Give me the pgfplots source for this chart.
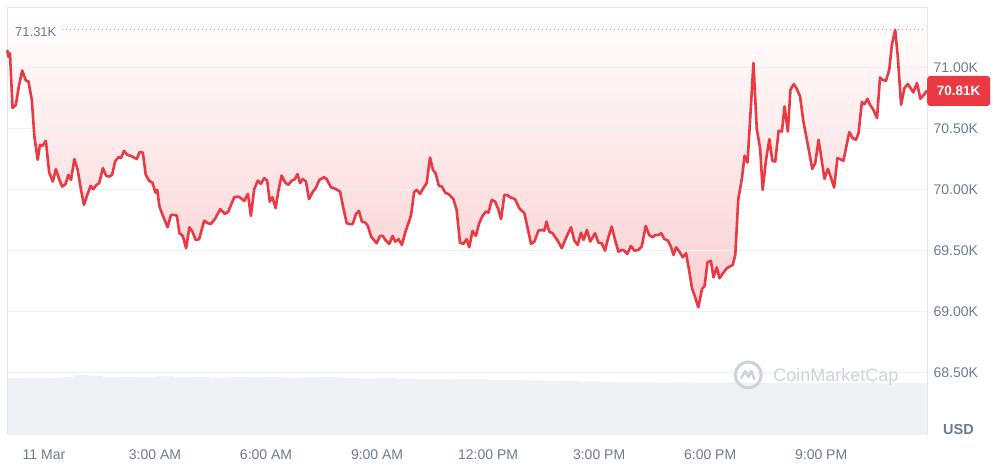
\documentclass[border=0pt]{standalone}
\usepackage{fontspec}
\setmainfont{Liberation Sans}
\usepackage{pgfplots}
\usepackage{pgfplotstable}
\pgfplotsset{compat=1.18}
\definecolor{cmcred}{HTML}{EA3943}
\definecolor{lbl}{HTML}{6F7A8E}
\definecolor{gridc}{HTML}{EDF0F4}
\definecolor{framec}{HTML}{E4E7EC}
\definecolor{volc}{HTML}{EFF1F4}
\definecolor{wm}{HTML}{CDD3DD}
\definecolor{dotc}{HTML}{A3AAB6}

\pgfplotstableread{
h p
-0.99 71140
-0.96 71090
-0.92 71120
-0.85 70670
-0.76 70697
-0.68 70847
-0.59 70978
-0.49 70896
-0.42 70888
-0.33 70738
-0.26 70437
-0.17 70246
-0.11 70369
-0.04 70361
0.05 70402
0.14 70142
0.24 70068
0.32 70170
0.41 70088
0.49 70027
0.58 70047
0.66 70123
0.73 70082
0.82 70252
0.91 70164
1.00 70000
1.08 69877
1.17 69959
1.26 70033
1.33 70006
1.42 70041
1.49 70055
1.59 70178
1.68 70115
1.76 70109
1.84 70123
1.92 70232
2.01 70268
2.08 70260
2.16 70320
2.25 70287
2.34 70279
2.41 70268
2.51 70252
2.58 70309
2.67 70306
2.75 70123
2.84 70074
2.93 70060
3.01 69978
3.06 70000
3.12 69863
3.18 69814
3.25 69760
3.34 69694
3.43 69795
3.52 69795
3.59 69789
3.66 69645
3.75 69623
3.84 69522
3.93 69694
4.01 69658
4.10 69590
4.19 69596
4.33 69748
4.42 69727
4.51 69721
4.62 69762
4.76 69842
4.89 69803
4.98 69822
5.14 69940
5.25 69945
5.32 69932
5.41 69910
5.51 69967
5.59 69787
5.68 70006
5.78 70076
5.86 70049
5.95 70096
6.03 70076
6.10 69904
6.17 69940
6.26 69850
6.33 69986
6.42 70117
6.51 70063
6.60 70041
6.69 70074
6.78 70088
6.85 70129
6.92 70055
6.99 70088
7.08 70068
7.16 69924
7.25 69978
7.32 70006
7.35 70019
7.44 70082
7.57 70104
7.64 70088
7.75 70022
7.86 70011
8.00 69986
8.09 69850
8.18 69727
8.27 69719
8.34 69719
8.43 69803
8.51 69828
8.59 69740
8.68 69732
8.75 69705
8.84 69617
8.93 69584
8.99 69563
9.08 69623
9.15 69623
9.24 69584
9.33 69557
9.42 69623
9.49 69576
9.58 69596
9.67 69549
9.76 69650
9.87 69748
9.92 69795
10.00 69981
10.07 70000
10.16 69967
10.25 70014
10.34 70055
10.43 70265
10.51 70164
10.58 70137
10.67 70033
10.75 70027
10.84 69978
10.93 69965
11.06 69926
11.15 69836
11.24 69568
11.33 69557
11.42 69596
11.49 69530
11.58 69664
11.67 69623
11.76 69727
11.85 69787
11.94 69822
12.01 69814
12.10 69918
12.19 69904
12.28 69836
12.35 69760
12.44 69959
12.51 69959
12.59 69940
12.73 69924
12.84 69850
12.98 69809
13.07 69686
13.16 69557
13.25 69576
13.36 69666
13.47 69672
13.52 69666
13.58 69740
13.65 69658
13.74 69645
13.88 69584
13.99 69522
14.13 69623
14.24 69694
14.33 69584
14.42 69549
14.51 69650
14.58 69590
14.67 69672
14.76 69576
14.89 69645
14.98 69568
15.07 69563
15.16 69502
15.23 69590
15.34 69699
15.43 69590
15.52 69494
15.61 69508
15.68 69502
15.76 69475
15.86 69541
15.95 69502
16.06 69508
16.15 69535
16.26 69705
16.35 69631
16.44 69612
16.53 69631
16.60 69629
16.68 69645
16.76 69598
16.86 69584
16.94 69535
17.01 69467
17.08 69530
17.17 69494
17.26 69448
17.35 69481
17.43 69344
17.51 69194
17.59 69125
17.68 69038
17.78 69188
17.85 69213
17.93 69407
18.02 69420
18.09 69284
18.18 69366
18.25 69276
18.36 69322
18.45 69358
18.56 69377
18.61 69385
18.68 69467
18.76 69924
18.86 70096
18.93 70279
19.01 70224
19.08 70574
19.17 71039
19.26 70498
19.35 70342
19.42 70000
19.51 70246
19.60 70416
19.68 70240
19.76 70232
19.85 70484
19.94 70478
20.01 70683
20.10 70478
20.17 70820
20.26 70866
20.34 70828
20.43 70765
20.52 70560
20.64 70369
20.76 70172
20.84 70219
20.93 70410
21.02 70232
21.09 70090
21.18 70172
21.27 70096
21.35 70019
21.44 70260
21.51 70252
21.60 70238
21.69 70369
21.76 70473
21.85 70424
21.94 70410
22.01 70465
22.10 70719
22.17 70702
22.25 70746
22.32 70697
22.41 70656
22.51 70588
22.59 70920
22.66 70902
22.75 70893
22.84 70984
22.91 71189
23.00 71310
23.07 71093
23.16 70697
23.25 70834
23.34 70866
23.43 70828
23.49 70798
23.59 70875
23.68 70746
23.76 70773
23.85 70810
}\price

\pgfplotstableread{
h v
-1 13.3
-0.5 13.4
0 13.3
0.5 13.6
0.8 14.0
1.2 13.9
1.6 13.5
2 13.6
2.5 13.5
3 13.7
3.5 13.5
4 13.6
4.5 13.4
5 13.6
5.5 13.5
6 13.6
6.5 13.4
7 13.5
7.5 13.6
8 13.3
8.5 13.2
9 13.4
9.5 13.2
10 13.1
10.5 13.1
11 13.0
11.5 13.0
12 12.9
12.5 12.9
13 12.8
13.5 12.7
14 12.6
14.5 12.5
15 12.4
15.5 12.3
16 12.3
16.5 12.2
17 12.3
17.5 12.2
18 12.2
18.5 12.3
19 12.2
19.5 12.2
20 12.2
20.5 12.1
21 12.2
21.5 12.2
22 12.2
22.5 12.1
23 12.2
23.5 12.2
23.86 12.2
}\volume

\begin{document}
\begin{tikzpicture}
\useasboundingbox (-7pt,-30pt) rectangle (995pt,435pt);
% volume
\begin{axis}[at={(0pt,0pt)}, anchor=south west, scale only axis,
  width=920pt, height=427pt, xmin=-1, xmax=23.86, ymin=0, ymax=100, hide axis]
\addplot[const plot, fill=volc, draw=none] table[x=h, y=v] {\volume} \closedcycle;
\end{axis}
% price
\begin{axis}[at={(0pt,0pt)}, anchor=south west, scale only axis,
  width=920pt, height=427pt, clip=false,
  xmin=-1, xmax=23.86, ymin=67992, ymax=71490,
  axis line style={draw=none},
  scaled y ticks=false, scaled x ticks=false,
  ytick={68500,69000,69500,70000,70500,71000},
  yticklabels={68.50K,69.00K,69.50K,70.00K,70.50K,71.00K},
  yticklabel pos=right,
  major tick length=0pt,
  xtick={0,3,6,9,12,15,18,21},
  xticklabels={11 Mar,3:00 AM,6:00 AM,9:00 AM,12:00 PM,3:00 PM,6:00 PM,9:00 PM},
  ticklabel style={font=\fontsize{14}{16}\selectfont, text=lbl},
  xticklabel style={anchor=base, yshift=-25pt},
  yticklabel style={anchor=west, xshift=3pt},
]
% gradient area between the price line and the top of the chart
\addplot[draw=none, top color=white, bottom color=cmcred!24] table[x=h, y=p] {\price}
  -- (axis cs:23.85,71490) -- (axis cs:-0.99,71490) -- cycle;
% horizontal grid lines
\pgfplotsinvokeforeach{68500,69000,69500,70000,70500,71000}{
  \draw[gridc, line width=1pt] (axis cs:-1,#1) -- (axis cs:23.86,#1);
}
\draw[framec, line width=1pt] (rel axis cs:0,0) -- (rel axis cs:0,1) -- (rel axis cs:1,1) -- (rel axis cs:1,0);
\addplot[dotc, line width=1pt, dash pattern=on 1pt off 3pt] coordinates {(0.49,71310) (23.80,71310)};
\node[anchor=west, inner sep=0, xshift=8pt, yshift=-2pt, text=lbl, font=\fontsize{13}{15}\selectfont] at (axis cs:-1,71310) {71.31K};
% watermark
\node[circle, draw=wm, line width=3pt, minimum size=26pt, inner sep=0] (logo) at (axis cs:19.03,68484) {};
\draw[wm, line width=2.5pt, line join=round, line cap=round] ([shift={(-7pt,-3pt)}]logo.center) -- ([shift={(-3pt,4pt)}]logo.center) -- ([shift={(0pt,-2pt)}]logo.center) -- ([shift={(3pt,4pt)}]logo.center) -- ([shift={(6pt,-4pt)}]logo.center);
\node[anchor=west, inner sep=0, text=wm, font=\fontsize{18}{20}\selectfont] at (axis cs:19.70,68467) {CoinMarketCap};
% price line
\addplot[cmcred, line width=2.6pt, line join=round, line cap=round] table[x=h, y=p] {\price};
\node[fill=cmcred, rounded corners=3pt, text=white, font=\bfseries\fontsize{13.5}{15}\selectfont, minimum width=63pt, minimum height=30pt, inner sep=0, anchor=west] at (axis cs:23.86,70810) {70.81K};
\node[anchor=base west, inner sep=0, xshift=16pt, text=lbl, font=\bfseries\fontsize{14.5}{16}\selectfont] at (rel axis cs:1,0) {USD};
\end{axis}
\end{tikzpicture}
\end{document}
